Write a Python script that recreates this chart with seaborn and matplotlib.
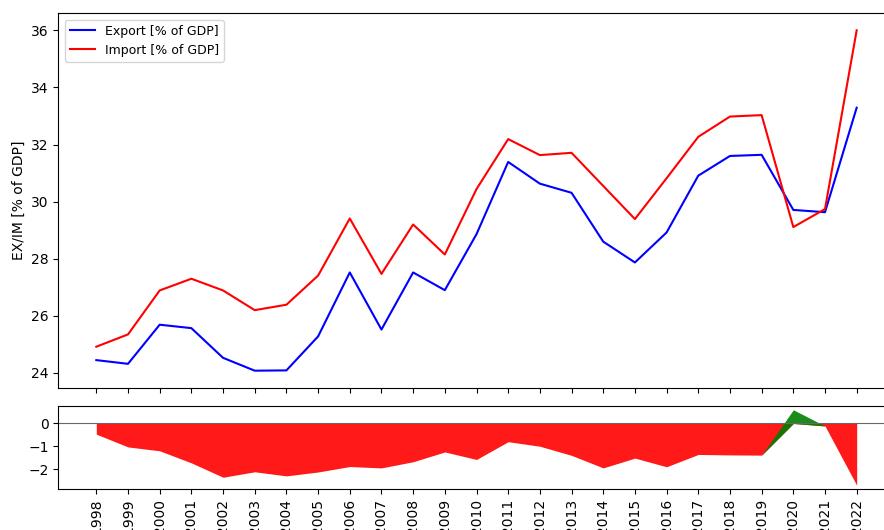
import numpy as np
import pandas as pd
import matplotlib
matplotlib.use("Agg")
import matplotlib.pyplot as plt
from matplotlib.ticker import MultipleLocator
import seaborn as sns

years = list(range(1998, 2023))
export_pct = [24.45, 24.32, 25.69, 25.57, 24.53, 24.08, 24.09, 25.28, 27.52, 25.52,
              27.52, 26.90, 28.86, 31.39, 30.63, 30.31, 28.60, 27.87, 28.92, 30.91,
              31.60, 31.64, 29.71, 29.63, 33.29]
import_pct = [24.92, 25.35, 26.89, 27.30, 26.89, 26.20, 26.39, 27.41, 29.41, 27.47,
              29.20, 28.15, 30.44, 32.19, 31.63, 31.71, 30.55, 29.39, 30.82, 32.27,
              32.98, 33.03, 29.11, 29.74, 36.00]

df = pd.DataFrame({"year": years, "export": export_pct, "import": import_pct})
df["balance"] = df["export"] - df["import"]

W, H = 884, 530
fig = plt.figure(figsize=(W / 100, H / 100), dpi=100)

L = 58.3 / W
Wd = (894.7 - 58.3) / W
ax1 = fig.add_axes([L, (H - 387.7) / H, Wd, (387.7 - 13.3) / H])
ax2 = fig.add_axes([L, (H - 489) / H, Wd, 83 / H], sharex=ax1)

sns.lineplot(data=df, x="year", y="export", color="blue", label="Export [% of GDP]", ax=ax1)
sns.lineplot(data=df, x="year", y="import", color="red", label="Import [% of GDP]", ax=ax1)
ax1.set_ylabel("EX/IM [% of GDP]")
ax1.set_xlabel("")
ax1.legend(loc="upper left", fontsize=9)
ax1.tick_params(axis="x", labelbottom=False)

x = df["year"].to_numpy()
bal = df["balance"].to_numpy()
low = np.minimum(bal, 0)
ax2.fill_between(x, 0, low, color="red", alpha=0.9, linewidth=0)
ax2.fill_between(x, bal, low, color="green", alpha=0.9, linewidth=0)
ax2.axhline(0, color="dimgray", lw=0.8)
ax2.set_xticks(years)
ax2.set_xticklabels([str(y) for y in years], rotation=90)
ax2.yaxis.set_major_locator(MultipleLocator(1))
ax2.set_xlabel("")
ax2.set_ylabel("")
ax2.margins(x=0.05, y=0.05)

for ax in (ax1, ax2):
    ax.spines["right"].set_visible(False)

fig.savefig("out.png", dpi=100)
